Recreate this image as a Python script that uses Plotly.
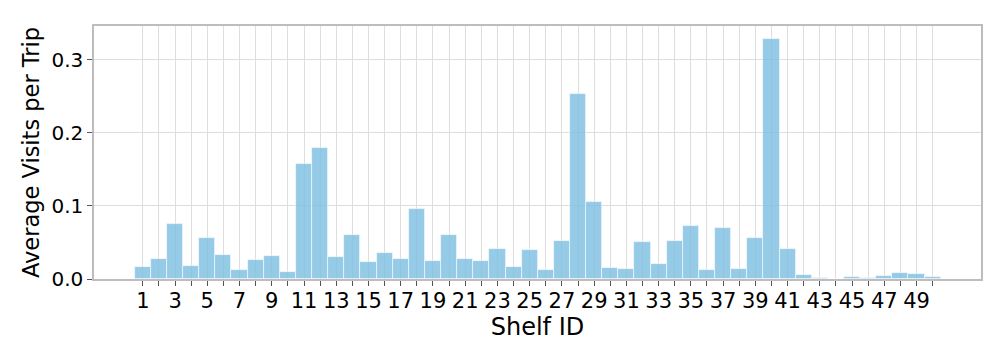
import plotly.graph_objects as go

shelf_ids = list(range(1, 51))
avg_visits = [
    0.016, 0.027, 0.0755, 0.018, 0.0555, 0.0327, 0.012, 0.026, 0.031, 0.0095,
    0.158, 0.179, 0.0295, 0.0605, 0.0227, 0.0355, 0.028, 0.0955, 0.025, 0.060,
    0.0273, 0.025, 0.0405, 0.0164, 0.040, 0.012, 0.0527, 0.2527, 0.106, 0.0155,
    0.0132, 0.0505, 0.020, 0.0514, 0.0723, 0.012, 0.0705, 0.0141, 0.0555, 0.329,
    0.041, 0.005, 0.0018, 0.0005, 0.0027, 0.0014, 0.0041, 0.0082, 0.0068, 0.0027,
]
tick_labels = [str(i) if i % 2 == 1 else "" for i in shelf_ids]

FONT = "DejaVu Sans"
SPINE = "#bdbdbd"
GRID = "#dedede"

fig = go.Figure(
    go.Bar(
        x=shelf_ids,
        y=avg_visits,
        width=1.0,
        marker=dict(color="rgba(124,190,226,0.8)",
                    line=dict(color="rgba(255,255,255,0.7)", width=0.8)),
        hoverinfo="skip",
    )
)

fig.update_layout(
    width=1008,
    height=360,
    margin=dict(l=94, r=27, t=26, b=81),
    plot_bgcolor="white",
    paper_bgcolor="white",
    showlegend=False,
    font=dict(family=FONT, color="black"),
    bargap=0,
)

fig.update_xaxes(
    range=[-2.03, 53.0],
    tickmode="array",
    tickvals=shelf_ids,
    ticktext=tick_labels,
    tickangle=0,
    ticks="outside",
    ticklen=5,
    tickwidth=1,
    tickcolor="#555555",
    tickfont=dict(size=21, family=FONT),
    ticklabelstandoff=-3,
    showgrid=True,
    gridcolor=GRID,
    gridwidth=1,
    showline=True,
    linecolor=SPINE,
    linewidth=1.5,
    mirror=True,
    zeroline=False,
    title=dict(text="Shelf ID", font=dict(size=24, family=FONT), standoff=1),
)

fig.update_yaxes(
    range=[0, 0.3464],
    tickmode="array",
    tickvals=[0.0, 0.1, 0.2, 0.3],
    ticktext=["0.0", "0.1", "0.2", "0.3"],
    ticks="outside",
    ticklen=5,
    tickwidth=1,
    tickcolor="#555555",
    tickfont=dict(size=20, family=FONT),
    showgrid=True,
    gridcolor=GRID,
    gridwidth=1,
    showline=True,
    linecolor=SPINE,
    linewidth=1.5,
    mirror=True,
    zeroline=False,
    title=dict(text="Average Visits per Trip", font=dict(size=22.5, family=FONT), standoff=6),
)

fig.write_html("out.html")
